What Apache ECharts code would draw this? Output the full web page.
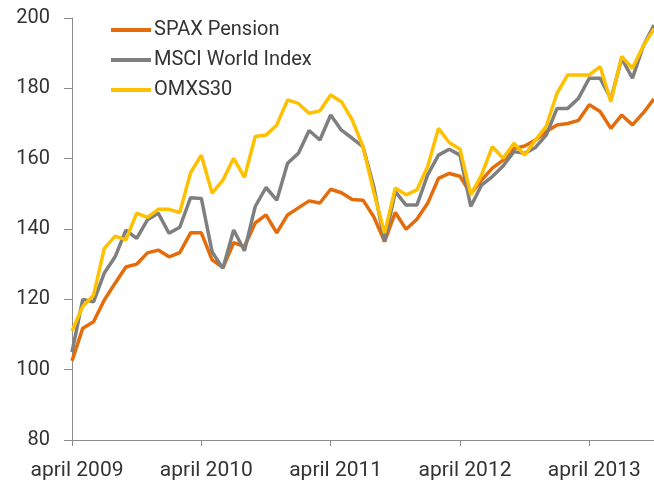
<!DOCTYPE html>
<html>
<head>
<meta charset="utf-8">
<script src="https://cdn.jsdelivr.net/npm/echarts@6/dist/echarts.min.js"></script>
<style>
  html, body { margin: 0; padding: 0; background: #fff; }
  #chart { width: 654px; height: 483px; }
</style>
</head>
<body>
<div id="chart"></div>
<script>
// monthly, april 2009 .. october 2013
const tickLabels = ['april 2009', 'april 2010', 'april 2011', 'april 2012', 'april 2013']

const spax = [
  102.5, 111.8, 113.6, 119.8, 124.6, 129.2, 130, 133.2, 134, 132.1, 133.3, 138.9,
  138.9, 131.2, 129, 136.1, 135, 141.7, 144, 138.9, 144, 146, 148, 147.4,
  151.3, 150.3, 148.4, 148.2, 143.5, 136.4, 144.7, 139.9, 142.8, 147.3, 154.4, 155.8,
  155, 150, 153.9, 157.3, 159.6, 162.9, 163.6, 165.3, 167.7, 169.6, 170, 170.9,
  175.3, 173.4, 168.6, 172.4, 169.6, 173, 177
]
const msci = [
  105, 120, 119.3, 127.5, 132.1, 139.7, 137.3, 142.6, 144.5, 138.8, 140.5, 148.9,
  148.7, 133.5, 128.8, 139.7, 133.8, 146.4, 151.8, 148.2, 158.7, 161.5, 168, 165.3,
  172.4, 168.1, 165.8, 163.4, 152, 136.4, 150.6, 146.8, 146.8, 155.4, 161, 162.7,
  161, 146.4, 152.5, 154.9, 157.9, 162, 161.5, 163.2, 166.7, 174.3, 174.3, 177.2,
  182.9, 182.9, 177, 188.5, 182.9, 192, 198
]
const omxs30 = [
  111, 118, 121.2, 134.5, 138, 136.9, 144.5, 143.3, 145.6, 145.6, 144.7, 156,
  161, 150.2, 153.9, 160.1, 154.7, 166.3, 166.7, 169.6, 176.7, 175.7, 172.9, 173.6,
  178.1, 176.2, 171, 163.4, 150.5, 138.8, 151.7, 149.7, 151.1, 157.8, 168.6, 164.6,
  162.7, 149.7, 155.4, 163.4, 160.1, 164.4, 161, 165.3, 169.2, 178.6, 183.8, 183.8,
  183.8, 186.2, 176.2, 189.1, 185.7, 192, 197
]

const months = []
for (let i = 0; i < spax.length; i++) {
  months.push(i % 12 === 0 ? tickLabels[i / 12] : 'm' + i)
}

const fontFamily = 'Roboto, "Liberation Sans", sans-serif'
const axisColor = '#8c8c8c'

var myChart = echarts.init(document.getElementById('chart'))

var option = {
  animation: false,
  grid: { left: 72, right: 0, top: 18, bottom: 43 },
  legend: {
    orient: 'vertical',
    left: 106,
    top: 15,
    itemWidth: 40,
    itemHeight: 4,
    itemGap: 10,
    icon: 'rect',
    textStyle: { fontSize: 20, color: '#333', fontFamily: fontFamily, padding: [0, 0, 0, -2] }
  },
  xAxis: {
    type: 'category',
    data: months,
    boundaryGap: false,
    axisLine: { lineStyle: { color: axisColor, width: 1 } },
    axisTick: {
      length: 6,
      interval: (i) => i % 12 === 0,
      lineStyle: { color: axisColor }
    },
    axisLabel: {
      interval: (i) => i % 12 === 0,
      margin: 20,
      padding: [0, 0, 0, 10],
      fontSize: 21,
      color: '#333',
      fontFamily: fontFamily
    },
    splitLine: { show: false }
  },
  yAxis: {
    type: 'value',
    min: 80,
    max: 200,
    interval: 20,
    axisLine: { show: true, lineStyle: { color: axisColor, width: 1 } },
    axisTick: { show: true, length: 8, lineStyle: { color: axisColor } },
    axisLabel: { margin: 22, fontSize: 20, color: '#333', fontFamily: fontFamily },
    splitLine: { show: false }
  },
  series: [
    {
      name: 'SPAX Pension',
      type: 'line',
      data: spax,
      symbol: 'none',
      color: '#e46c0a',
      lineStyle: { width: 3.5 }
    },
    {
      name: 'MSCI World Index',
      type: 'line',
      data: msci,
      symbol: 'none',
      color: '#7f7f7f',
      lineStyle: { width: 3.5 }
    },
    {
      name: 'OMXS30',
      type: 'line',
      data: omxs30,
      symbol: 'none',
      color: '#ffc000',
      lineStyle: { width: 3.5 }
    }
  ]
}

myChart.setOption(option)
</script>
</body>
</html>
